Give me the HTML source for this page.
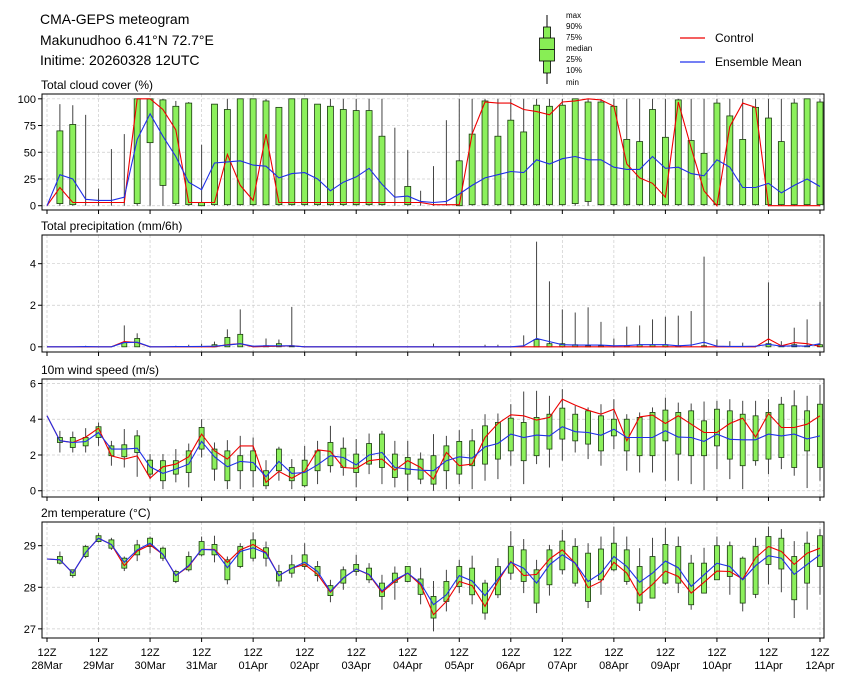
<!DOCTYPE html>
<html><head><meta charset="utf-8"><style>
html,body{margin:0;padding:0;background:#fff;}
svg{display:block;font-family:"Liberation Sans","DejaVu Sans",sans-serif;}
</style></head><body>
<svg id="chart" width="845" height="681" viewBox="0 0 845 681" xmlns="http://www.w3.org/2000/svg">
<g font-size="14" fill="#000">
<text x="40" y="24">CMA-GEPS meteogram</text>
<text x="40" y="45">Makunudhoo 6.41°N 72.7°E</text>
<text x="40" y="65">Initime: 20260328 12UTC</text>
</g>
<g>
<line x1="547" y1="15" x2="547" y2="84" stroke="#000" stroke-width="1"/>
<rect x="543.5" y="27" width="7" height="46" fill="#88ee55" stroke="#000" stroke-width="0.8"/>
<rect x="539.5" y="38" width="15" height="23" fill="#88ee55" stroke="#000" stroke-width="0.8"/>
<line x1="539.5" y1="49.5" x2="554.5" y2="49.5" stroke="#000" stroke-width="0.8"/>
<g font-size="8" fill="#000">
<text x="566" y="18">max</text><text x="566" y="29">90%</text><text x="566" y="40">75%</text>
<text x="566" y="51">median</text><text x="566" y="62">25%</text><text x="566" y="73">10%</text><text x="566" y="85">min</text>
</g>
</g>
<g font-size="12">
<line x1="680" y1="38" x2="705" y2="38" stroke="#e00" stroke-width="1.2"/>
<text x="715" y="42">Control</text>
<line x1="680" y1="62" x2="705" y2="62" stroke="#2233ee" stroke-width="1.2"/>
<text x="715" y="66">Ensemble Mean</text>
</g>
</svg>
<script>
// ---- time axis ----
const dayLabels = ["28Mar","29Mar","30Mar","31Mar","01Apr","02Apr","03Apr","04Apr","05Apr","06Apr","07Apr","08Apr","09Apr","10Apr","11Apr","12Apr"];
// ---- cloud cover ----
const cloudCtrl = [0,17,3,3,3,3,3,100,100,90,71,3,3,3,48,19,5,67,3,3,3,3,3,3,3,3,3,3,3,3,1,1,1,67,97,96,96,90,88,85,97,98,100,99,93,39,26,21,8,97,54,14,0,74,96,92,0,0,0,0,0];
const cloudMean = [0,29,25,6,5,5,8,62,86,65,46,22,15,40,41,42,38,37,26,30,31,25,14,22,27,35,20,8,9,4,3,4,11,19,26,29,32,31,43,39,44,46,43,43,36,34,34,46,35,36,30,28,43,36,17,17,21,12,19,25,18];
const cloudMax = [null,95,94,85,16,53,67,100,100,100,98,97,57,95,100,100,100,100,92,100,100,95,100,100,100,100,100,73,52,14,37,80,100,100,100,100,100,100,100,100,100,100,100,100,100,100,100,100,100,100,100,100,100,100,100,100,100,100,100,100,100];
const cloudP90 = [null,70,76,0,0,0,0,100,100,99,93,96,3,95,90,100,100,98,92,100,100,95,93,90,89,89,65,0,18,0,0,0,42,67,98,65,80,69,94,93,94,100,97,97,93,62,60,90,64,99,61,49,96,84,62,92,82,60,96,100,97];
const cloudP10 = [null,2,1,0,0,0,0,2,59,19,2,1,0,1,1,1,1,1,1,1,1,1,1,1,1,1,1,0,1,0,0,0,0,1,1,1,1,1,1,1,1,2,4,1,1,1,1,1,1,1,1,1,1,1,1,1,1,1,1,1,1];
const cloudMin = [null,0,0,0,0,0,0,0,0,0,0,0,0,0,0,0,0,0,0,0,0,0,0,0,0,0,0,0,0,0,0,0,0,0,0,0,0,0,0,0,0,0,0,0,0,0,0,0,0,0,0,0,0,0,0,0,0,0,0,0,0];
// ---- precipitation ----
const precCtrl = [0,0,0,0,0,0,0.25,0.2,0,0,0,0,0,0,0.1,0.15,0,0.02,0.03,0.05,0,0,0,0,0,0,0,0,0,0,0,0,0,0,0,0,0,0,0,0,0,0,0,0,0,0,0,0,0,0,0,0,0,0,0,0,0.38,0.05,0.2,0.15,0.02];
const precMean = [0,0,0,0.01,0,0,0.2,0.22,0,0,0.01,0.01,0.02,0.03,0.08,0.15,0.03,0.05,0.05,0.05,0,0,0,0,0,0,0,0,0,0,0,0,0,0,0,0,0,0.05,0.4,0.25,0.1,0.08,0.08,0.08,0.05,0.06,0.1,0.1,0.1,0.05,0.08,0.22,0.03,0.02,0.02,0.03,0.12,0.03,0.05,0.03,0.15];
const precMax = [null,0,0,0.05,0,0,1.03,0.65,0,0,0.05,0.1,0.15,0.25,0.84,1.8,0.05,0.4,0.35,1.92,0,0,0,0,0,0,0,0,0,0,0.15,0,0,0,0.1,0.1,0,0.55,5.06,3.15,1.8,1.65,1.9,1.2,0.4,0.97,1.03,1.32,1.45,1.5,1.72,4.34,0.35,0.27,0.2,0.05,3.1,0.27,0.92,1.32,2.16];
const precP90 = [null,0,0,0,0,0,0.2,0.4,0,0,0,0,0,0.1,0.45,0.6,0,0.05,0.15,0.05,0,0,0,0,0,0,0,0,0,0,0,0,0,0,0,0,0,0,0.35,0.15,0.15,0.1,0.05,0.05,0,0.05,0.1,0.1,0.1,0.05,0,0.05,0,0,0,0,0.15,0.05,0.1,0.05,0.1];
// ---- wind ----
const windCtrl = [4.2,2.8,2.7,3.0,3.5,1.95,1.77,1.95,0.7,1.34,1.49,1.9,3.17,2.23,1.77,2.51,2.51,0.47,1.08,0.7,1.1,2.29,2.2,1.3,1.25,1.68,1.77,1.15,1.68,1.3,0.65,2.14,1.4,1.49,2.98,3.76,4.25,4.19,3.95,4.1,5.12,4.79,4.5,4.28,4.56,2.8,4.13,4.23,3.76,4.19,3.72,3.26,3.26,3.76,4.06,3.0,4.32,3.54,3.54,3.72,4.19];
const windMean = [4.2,2.8,2.7,2.75,3.26,2.33,2.33,2.38,1.34,0.97,1.21,1.49,2.76,1.9,1.34,1.64,1.58,0.78,1.64,0.97,1.02,1.45,1.96,1.86,1.45,2.0,2.14,1.3,1.21,1.15,1.12,1.68,1.9,1.82,2.46,2.64,3.17,2.98,3.11,3.07,3.58,3.3,3.26,3.1,3.44,2.98,2.98,2.98,3.35,3.0,2.98,2.76,3.17,2.88,2.85,2.85,3.17,3.07,3.17,2.9,3.07];
const windMax = [null,3.35,3.31,3.5,3.82,2.79,3.45,3.39,2.05,2.05,2.33,2.64,4.0,2.7,2.83,3.07,2.98,1.71,2.46,1.77,2.51,2.79,3.63,2.98,2.89,3.2,3.35,2.79,2.79,2.14,3.17,3.07,3.39,3.45,4.28,4.32,4.84,5.55,5.59,5.31,5.68,4.75,4.66,4.84,5.12,4.28,4.38,4.66,5.21,4.93,4.88,4.99,5.03,5.12,5.03,5.03,5.12,5.25,5.62,5.31,5.92];
const windP90 = [null,2.98,2.98,2.98,3.58,2.51,2.57,3.07,1.71,1.68,1.68,2.23,3.54,2.33,2.23,1.96,2.23,1.12,2.33,1.3,1.71,2.23,2.7,2.38,2.05,2.64,3.17,2.05,1.86,1.77,1.96,2.51,2.76,2.79,3.63,3.82,4.06,3.82,4.1,4.28,4.62,4.28,4.47,4.19,4.0,4.0,4.1,4.38,4.51,4.38,4.47,3.91,4.56,4.47,4.28,4.19,4.38,4.84,4.75,4.47,4.84];
const windP10 = [null,2.7,2.42,2.51,2.98,1.96,1.9,2.14,0.93,0.56,0.93,1.02,2.33,1.21,0.56,1.12,1.12,0.28,1.12,0.56,0.28,1.12,1.4,1.3,1.02,1.49,1.3,0.74,0.93,0.65,0.37,1.12,0.93,1.4,1.49,1.77,2.23,1.68,1.96,2.33,2.89,2.79,2.61,2.23,3.07,2.23,1.96,1.96,2.79,2.05,1.96,1.96,2.51,1.77,1.4,1.68,1.77,1.86,1.3,2.23,1.3];
const windMin = [null,2.14,2.14,2.14,2.51,1.4,1.3,0.78,0.65,0.09,0.47,0.19,1.86,0.56,0.09,0.09,0.19,0.09,0.56,0.09,0.19,0.37,1.02,0.84,0.19,0.93,0.37,0.19,0.0,0.37,0.0,0.09,0.37,0.09,0.56,0.65,1.4,0.37,1.49,1.3,1.68,2.14,1.77,1.4,2.33,1.12,1.02,1.02,0.56,0.56,0.37,0.04,1.21,0.65,0.09,1.4,0.93,1.21,0.84,0.15,0.56];
// ---- temperature ----
const tempCtrl = [28.68,28.66,28.34,28.84,29.18,29.03,28.52,28.87,29.02,28.79,28.28,28.5,28.91,28.91,28.6,28.9,29.03,28.84,28.28,28.46,28.55,28.31,27.88,28.22,28.44,28.3,27.88,28.14,28.34,28.06,27.34,27.66,28.14,28.04,27.54,28.14,28.62,28.28,28.31,28.68,28.9,28.58,27.99,28.14,28.6,28.34,27.8,28.07,28.39,28.26,27.86,28.12,28.39,28.38,28.2,28.71,28.98,28.86,28.55,28.82,28.94];
const tempMean = [28.68,28.66,28.34,28.84,29.18,29.03,28.6,28.9,29.06,28.79,28.28,28.52,28.91,28.9,28.47,28.86,28.95,28.82,28.28,28.46,28.6,28.38,27.9,28.22,28.44,28.31,27.91,28.18,28.34,28.1,27.58,27.82,28.28,28.15,27.8,28.2,28.6,28.46,28.1,28.54,28.78,28.58,28.14,28.34,28.74,28.5,28.12,28.34,28.63,28.47,28.02,28.3,28.58,28.5,28.18,28.52,28.76,28.7,28.31,28.55,28.78];
const tempMax = [null,28.86,28.42,29.02,29.3,29.19,28.74,29.14,29.22,28.98,28.42,28.86,29.22,29.24,28.74,29.06,29.32,29.1,28.54,28.78,29.06,28.63,28.18,28.5,28.78,28.58,28.3,28.5,28.5,28.47,28.15,28.42,28.66,28.76,28.18,28.7,29.35,29.16,28.66,29.02,29.38,29.18,29.06,29.22,29.46,29.22,28.94,29.19,29.43,29.22,28.78,28.95,29.22,29.1,28.74,29.19,29.46,29.4,29.11,29.34,29.4];
const tempP90 = [null,28.74,28.42,28.98,29.24,29.14,28.7,29.02,29.18,28.94,28.38,28.74,29.1,29.03,28.66,28.98,29.14,28.95,28.38,28.54,28.78,28.5,28.04,28.42,28.55,28.46,28.1,28.34,28.5,28.2,27.78,28.14,28.5,28.46,28.1,28.5,28.98,28.9,28.42,28.9,29.11,28.98,28.82,28.92,29.06,28.9,28.5,28.74,29.03,28.98,28.58,28.58,29.0,29.0,28.7,28.98,29.22,29.18,28.74,29.06,29.24];
const tempP10 = [null,28.58,28.28,28.74,29.1,28.94,28.46,28.78,28.98,28.7,28.14,28.42,28.78,28.78,28.18,28.5,28.7,28.7,28.15,28.34,28.5,28.28,27.8,28.1,28.38,28.18,27.78,28.12,28.14,27.83,27.26,27.66,28.02,27.82,27.38,27.82,28.34,28.14,27.62,28.06,28.42,28.1,27.66,28.18,28.42,28.14,27.62,27.74,28.1,28.1,27.58,27.86,28.18,28.26,27.62,27.83,28.55,28.44,27.7,28.1,28.5];
const tempMin = [null,28.55,28.23,28.7,29.08,28.9,28.39,28.63,28.82,28.63,28.1,28.38,28.74,28.6,28.07,28.46,28.62,28.5,28.02,28.23,28.42,28.14,27.64,27.94,28.28,28.1,27.46,27.7,28.12,27.59,26.94,27.42,27.86,27.59,27.22,27.74,28.18,27.86,27.38,27.8,28.31,28.02,27.5,27.82,28.38,28.06,27.43,27.74,28.06,27.86,27.46,27.86,28.18,27.82,27.42,27.74,28.07,27.88,27.26,27.46,27.82];

const NS = "http://www.w3.org/2000/svg";
const svg = document.getElementById("chart");
function mk(tag, attrs, parent){const e=document.createElementNS(NS,tag);for(const k in attrs)e.setAttribute(k,attrs[k]);(parent||svg).appendChild(e);return e;}
const X0=42, X1=824;
function xStep(i){return 47 + i*(773/60);}

const panels = [
 {name:"cloud-cover",title:"Total cloud cover (%)",top:94,bot:210,vmin:-4,vmax:104.5,ticks:[0,25,50,75,100],tlab:["0","25","50","75","100"],
  ctrl:cloudCtrl,mean:cloudMean,max:cloudMax,p90:cloudP90,p10:cloudP10,min:cloudMin,bw:6},
 {name:"precipitation",title:"Total precipitation (mm/6h)",top:235,bot:352,vmin:-0.25,vmax:5.38,ticks:[0,2,4],tlab:["0","2","4"],
  ctrl:precCtrl,mean:precMean,max:precMax,p90:precP90,p10:null,min:null,bw:5},
 {name:"wind-speed",title:"10m wind speed (m/s)",top:379,bot:497,vmin:-0.35,vmax:6.25,ticks:[0,2,4,6],tlab:["0","2","4","6"],
  ctrl:windCtrl,mean:windMean,max:windMax,p90:windP90,p10:windP10,min:windMin,bw:5},
 {name:"temperature",title:"2m temperature (°C)",top:522,bot:638,vmin:26.78,vmax:29.57,ticks:[27,28,29],tlab:["27","28","29"],
  ctrl:tempCtrl,mean:tempMean,max:tempMax,p90:tempP90,p10:tempP10,min:tempMin,bw:5}
];

panels.forEach((p,pi)=>{
  const g = mk("g",{});
  
  
  const y = v => p.bot - (v - p.vmin)/(p.vmax - p.vmin)*(p.bot - p.top);
  const t = mk("text",{x:41,y:p.top-5,"font-size":12},g);
  t.textContent = p.title;
  
  
  dayLabels.forEach((d,di)=>{
    const gx = xStep(di*4);
    mk("line",{x1:gx,x2:gx,y1:p.top,y2:p.bot,stroke:"#ccc","stroke-width":0.7,"stroke-dasharray":"3,2"},g);
    mk("line",{x1:gx,x2:gx,y1:p.bot,y2:p.bot+4,stroke:"#000","stroke-width":1},g);
  });
  p.ticks.forEach((tv,ti)=>{
    const ty = y(tv);
    mk("line",{x1:X0,x2:X1,y1:ty,y2:ty,stroke:"#ccc","stroke-width":0.7,"stroke-dasharray":"3,2"},g);
    mk("line",{x1:X0-4,x2:X0,y1:ty,y2:ty,stroke:"#000","stroke-width":1},g);
    const lab = mk("text",{x:X0-6,y:ty+4,"font-size":11,"text-anchor":"end"},g);
    lab.textContent = p.tlab[ti];
    
    
  });
  for(let i=1;i<p.max.length;i++){
    if(p.max[i]==null) continue;
    const cx = xStep(i);
    const lo = p.min ? p.min[i] : 0;
    const wl = mk("line",{x1:cx,x2:cx,y1:y(lo),y2:y(p.max[i]),stroke:"#444","stroke-width":1},g);
    
    
    const b10 = p.p10 ? p.p10[i] : 0;
    const top = y(p.p90[i]), bot = y(b10);
    if(bot-top > 0.3){
      const r = mk("rect",{x:cx-p.bw/2,y:top,width:p.bw,height:bot-top,fill:"#8cf05c",stroke:"#1a3a10","stroke-width":0.8},g);
      
      
    }
  }
  const pts = arr => arr.map((v,i)=>xStep(i).toFixed(1)+","+y(v).toFixed(1)).join(" ");
  const lc = mk("polyline",{points:pts(p.ctrl),fill:"none",stroke:"#e00","stroke-width":1.1},g);
  
  
  const lm = mk("polyline",{points:pts(p.mean),fill:"none",stroke:"#1f2fe8","stroke-width":1.1},g);
  
  
  const fr = mk("rect",{x:X0,y:p.top,width:X1-X0,height:p.bot-p.top,fill:"none",stroke:"#000","stroke-width":1},g);
  
  
});

dayLabels.forEach((d,di)=>{
  const gx = xStep(di*4);
  const a = mk("text",{x:gx,y:656,"font-size":11,"text-anchor":"middle"});
  a.textContent = "12Z";
  
  
  const b = mk("text",{x:gx,y:669,"font-size":11,"text-anchor":"middle"});
  b.textContent = d;
  
  
});
</script>
</body></html>
